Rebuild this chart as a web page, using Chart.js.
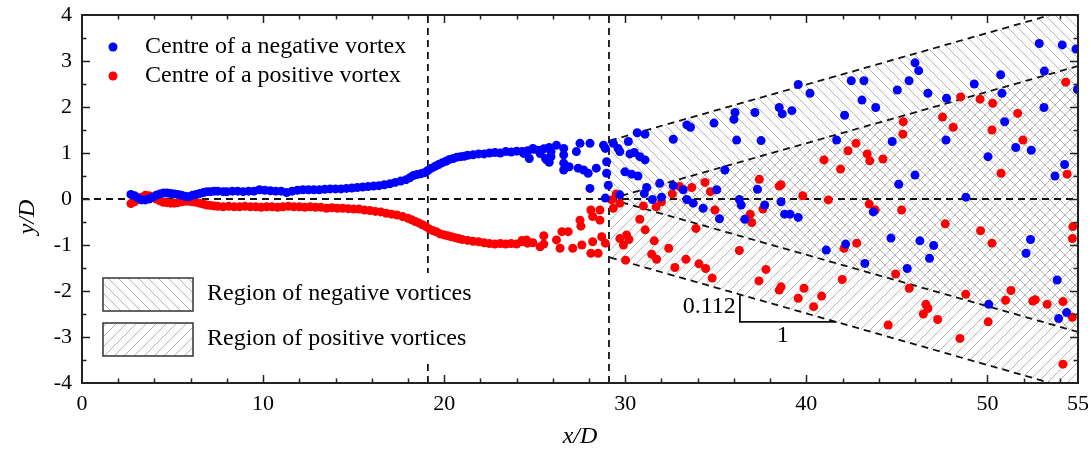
<!DOCTYPE html>
<html>
<head>
<meta charset="utf-8">
<script src="https://cdn.jsdelivr.net/npm/chart.js@4/dist/chart.umd.min.js"></script>
<style>
  html, body { margin: 0; padding: 0; background: #fff; }
</style>
</head>
<body>
<canvas id="vortexChart" width="1091" height="450"></canvas>
<script>
// tick labels
const xTicks = [0, 10, 20, 30, 40, 50, 55];
const yTicks = [-4, -3, -2, -1, 0, 1, 2, 3, 4];

// centres of negative vortices, near wake (x/D, y/D)
const negTrail = [
  [2.7,0.10],[2.9,0.07],[3.1,0.02],[3.3,-0.02],[3.5,-0.02],[3.7,0.0],[3.9,0.04],[4.1,0.08],[4.3,0.11],[4.5,0.13],
  [4.7,0.13],[4.9,0.12],[5.1,0.11],[5.3,0.10],[5.5,0.08],[5.7,0.06],[5.9,0.05],[6.1,0.08],[6.3,0.10],[6.5,0.12],
  [6.7,0.14],[6.9,0.16],[7.1,0.16],[7.3,0.17],[7.5,0.17],[7.8,0.16],[8.0,0.16],[8.3,0.17],[8.6,0.17],[8.9,0.16],
  [9.2,0.17],[9.5,0.17],[9.8,0.20],[10.1,0.19],[10.4,0.18],[10.7,0.17],[11.0,0.17],[11.3,0.14],[11.6,0.17],[11.9,0.19],
  [12.2,0.20],[12.5,0.20],[12.8,0.20],[13.1,0.20],[13.4,0.21],[13.7,0.22],[14.0,0.22],[14.3,0.22],[14.6,0.23],[14.9,0.24],
  [15.2,0.25],[15.5,0.26],[15.8,0.27],[16.1,0.28],[16.4,0.29],[16.7,0.31],[17.0,0.33],[17.3,0.36],[17.6,0.39],[17.9,0.42],
  [18.1,0.46],[18.3,0.51],[18.5,0.53],[18.7,0.55],[18.9,0.57],[19.1,0.62],[19.3,0.67],[19.5,0.71],[19.7,0.75],[19.9,0.79],
  [20.1,0.82],[20.3,0.86],[20.5,0.88],[20.7,0.91],[20.9,0.92],[21.1,0.93],[21.3,0.95],[21.6,0.96],[21.9,0.98],[22.2,0.98],
  [22.5,1.00],[22.8,1.01],[23.1,1.00],[23.4,1.03],[23.7,1.02],[24.0,1.04],[24.3,1.03],[24.6,1.05],[24.9,1.08],[25.2,1.06],
  [25.5,1.09],[25.8,1.12]
];

// centres of negative vortices, far wake
const negScatter = [
  [24.4,0.99],[24.7,0.88],[24.9,1.10],[25.3,0.99],[25.6,0.88],[25.66,0.85],[25.8,0.80],[25.9,1.03],[25.9,0.92],[26.2,1.17],
  [26.6,1.10],[26.6,0.96],[26.6,0.78],[26.6,0.63],[26.9,0.70],[27.3,1.03],[27.4,0.67],[27.5,1.21],[27.7,0.63],[27.95,0.56],
  [28.05,1.21],[28.05,0.23],[28.4,0.67],[28.8,1.17],[28.9,1.10],[28.97,0.81],[28.97,0.56],[29.06,0.30],[28.9,0.02],[29.34,1.21],
  [29.6,1.10],[29.7,1.03],[29.7,0.09],[30.17,1.25],[30.26,0.98],[30.5,1.01],[30.66,1.44],[31.09,1.41],[30.8,0.92],[31.09,0.85],
  [29.98,0.59],[30.35,0.54],[30.7,0.50],[31.18,0.25],[31.05,0.12],[31.9,0.34],[31.5,-0.01],[32.0,0.04],[32.65,1.30],[32.65,0.29],
  [33.2,0.20],[33.4,1.61],[33.6,1.56],[33.4,-0.01],[33.75,-0.09],[34.3,-0.20],[34.9,1.65],[35.05,0.20],[35.2,-0.43],[35.5,0.63],
  [36.0,1.73],[36.06,1.88],[36.15,1.28],[36.3,-0.01],[36.4,-0.13],[36.6,-0.44],[37.16,1.88],[37.3,0.21],[37.5,1.27],[37.7,-0.13],
  [38.5,1.99],[38.67,1.85],[38.6,-0.06],[38.8,-0.33],[39.1,-0.33],[39.2,1.92],[39.55,2.49],[39.55,-0.40],[40.2,2.30],[41.1,-1.11],
  [41.67,1.28],[42.11,1.82],[42.17,-0.98],[42.48,2.57],[43.07,2.15],[43.18,2.57],[43.23,-1.40],[43.7,-0.28],[43.83,1.99],[44.67,-0.85],
  [44.74,1.25],[45.02,2.37],[45.1,0.32],[45.57,-1.51],[45.67,2.57],[46.0,2.96],[46.2,2.79],[46.0,0.52],[46.27,-0.91],[46.71,2.30],
  [46.8,-1.29],[47.03,-1.01],[47.71,1.28],[47.74,2.19],[48.81,0.04],[49.27,2.50],[50.03,0.92],[50.07,-2.29],[50.73,2.70],[50.8,2.30],
  [50.95,1.68],[51.56,1.12],[52.13,-1.18],[52.38,-0.88],[52.42,1.06],[52.86,3.38],[53.12,1.99],[53.14,2.78],[53.73,0.50],[53.85,-1.76],
  [53.93,-2.60],[54.13,3.35],[54.26,0.75],[54.37,-2.47],[54.89,3.26],[54.97,2.38]
];

// centres of positive vortices, near wake
const posTrail = [
  [2.7,-0.10],[2.9,-0.06],[3.1,-0.01],[3.3,0.04],[3.5,0.08],[3.7,0.07],[3.9,0.04],[4.1,0.0],[4.3,-0.04],[4.5,-0.07],
  [4.7,-0.08],[4.9,-0.09],[5.1,-0.09],[5.3,-0.08],[5.5,-0.06],[5.7,-0.05],[5.9,-0.05],[6.1,-0.06],[6.3,-0.07],[6.5,-0.09],
  [6.7,-0.11],[6.9,-0.13],[7.1,-0.14],[7.3,-0.15],[7.5,-0.16],[7.8,-0.17],[8.1,-0.16],[8.4,-0.17],[8.7,-0.17],[9.0,-0.16],
  [9.3,-0.17],[9.6,-0.17],[9.9,-0.18],[10.2,-0.17],[10.5,-0.17],[10.8,-0.18],[11.1,-0.17],[11.4,-0.16],[11.7,-0.17],[12.0,-0.17],
  [12.3,-0.18],[12.6,-0.17],[12.9,-0.18],[13.2,-0.18],[13.5,-0.20],[13.8,-0.19],[14.1,-0.20],[14.4,-0.20],[14.7,-0.21],[15.0,-0.22],
  [15.3,-0.22],[15.6,-0.24],[15.9,-0.25],[16.2,-0.27],[16.5,-0.28],[16.8,-0.31],[17.1,-0.33],[17.4,-0.35],[17.7,-0.38],[18.0,-0.42],
  [18.2,-0.45],[18.4,-0.49],[18.6,-0.52],[18.8,-0.56],[19.0,-0.60],[19.2,-0.66],[19.4,-0.69],[19.6,-0.72],[19.8,-0.76],[20.0,-0.78],
  [20.2,-0.80],[20.4,-0.82],[20.6,-0.84],[20.8,-0.86],[21.0,-0.88],[21.3,-0.90],[21.6,-0.92],[21.9,-0.93],[22.2,-0.95],[22.5,-0.97],
  [22.8,-0.98],[23.1,-0.97],[23.4,-0.98],[23.7,-0.97],[24.0,-0.98],[24.3,-0.93],[24.6,-0.96],[24.9,-0.95]
];

// centres of positive vortices, far wake
const posScatter = [
  [24.3,-0.90],[24.55,-0.89],[25.3,-1.04],[25.5,-0.80],[25.5,-0.98],[26.2,-0.89],[26.4,-1.07],[26.5,-0.71],[26.85,-0.71],[27.1,-1.07],
  [27.5,-0.46],[27.55,-0.59],[27.6,-1.00],[28.1,-0.24],[28.2,-0.38],[28.2,-0.93],[28.1,-1.18],[28.5,-1.18],[28.6,-0.24],[28.6,-0.46],
  [28.7,-0.82],[28.9,-0.96],[29.25,-0.02],[29.5,0.11],[29.7,-0.09],[29.34,-0.20],[29.7,-0.86],[30.07,-0.78],[30.2,-0.88],[29.9,-1.00],
  [30.02,-1.33],[30.8,-0.44],[31.0,-0.15],[31.1,-0.67],[31.46,-1.20],[31.6,-0.91],[31.7,-0.17],[31.73,-1.31],[32.0,-0.06],[32.4,-1.07],
  [32.6,0.11],[32.74,-1.49],[33.0,0.27],[33.35,-1.31],[33.67,0.25],[33.9,-0.64],[34.07,-1.41],[34.4,0.36],[34.44,-1.51],[34.7,0.16],
  [34.8,-1.72],[34.95,-0.24],[36.3,-1.12],[36.9,-0.33],[36.98,-0.51],[37.38,-1.78],[37.4,0.43],[37.6,-0.22],[37.77,-1.53],[38.5,0.28],
  [38.6,0.31],[38.5,-1.98],[38.6,-1.91],[39.55,-2.16],[39.8,0.07],[39.87,-1.94],[40.4,-2.34],[40.84,-2.11],[40.97,0.85],[41.21,-0.02],
  [41.89,0.65],[41.98,-1.75],[42.08,-1.07],[42.3,1.05],[42.74,1.21],[42.78,-0.96],[43.36,0.98],[43.47,-0.11],[43.5,0.83],[43.8,-0.24],
  [44.23,0.87],[44.52,-2.74],[44.93,-1.63],[45.26,-0.24],[45.33,1.41],[45.35,1.68],[45.68,-1.94],[46.46,-2.50],[46.6,-2.29],[46.71,-2.38],
  [47.25,-2.62],[47.52,1.78],[47.67,-0.54],[48.11,1.56],[48.48,-3.03],[48.52,2.22],[48.8,-2.07],[49.59,2.17],[49.62,-0.69],[50.04,-2.67],
  [50.25,1.50],[50.25,-0.96],[50.29,2.08],[50.75,0.56],[51.0,-2.20],[51.3,-1.99],[51.67,1.86],[51.96,1.28],[52.5,-2.22],[52.64,-2.19],
  [53.3,-2.29],[54.17,-2.23],[54.17,-3.59],[54.32,2.54],[54.4,0.54],[54.69,-0.86],[54.72,-0.60],[54.69,-2.57]
];

// spreading regions (slope 0.112), outlines as polygons
const negRegion = [[29.15,1.27],[55,4.17],[55,-2.89],[29.15,0]];
const posRegion = [[29.15,0],[55,2.89],[55,-4.17],[29.15,-1.27]];
const edgeTop = [[29.15,1.27],[55,4.17]];
const edgeMidUp = [[29.15,0],[55,2.89]];
const edgeMidDown = [[29.15,0],[55,-2.89]];
const edgeBottom = [[29.15,-1.27],[55,-4.17]];

// reference lines
const zeroLine = [[0,0],[55,0]];
const lineA = [[19.1,-4],[19.1,4]];
const lineB = [[29.1,-4],[29.1,4]];

// slope marker: 0.112 over 1
const slopeMark = [[36.33,-2.09],[36.33,-2.67],[41.67,-2.67]];
const slopeText = [{ t: '0.112', x: 36.1, y: -2.35, align: 'right' }, { t: '1', x: 38.7, y: -2.98, align: 'center' }];

const serif = "'Liberation Serif', 'Times New Roman', serif";
const canvas = document.getElementById('vortexChart');
const ctx = canvas.getContext('2d');

function hatch(back) {
  const s = 10;
  const c = document.createElement('canvas');
  c.width = s; c.height = s;
  const g = c.getContext('2d');
  g.strokeStyle = '#b4b4b4';
  g.lineWidth = 1;
  g.beginPath();
  if (back) {
    g.moveTo(-1, -1); g.lineTo(s + 1, s + 1);
    g.moveTo(-1, s - 1); g.lineTo(1, s + 1);
    g.moveTo(s - 1, -1); g.lineTo(s + 1, 1);
  } else {
    g.moveTo(-1, s + 1); g.lineTo(s + 1, -1);
    g.moveTo(-1, 1); g.lineTo(1, -1);
    g.moveTo(s - 1, s + 1); g.lineTo(s + 1, s - 1);
  }
  g.stroke();
  return ctx.createPattern(c, 'repeat');
}
const negHatch = hatch(true);
const posHatch = hatch(false);

const pts = arr => arr.map(([x, y]) => ({ x, y }));
const dashed = data => ({
  type: 'line', data: pts(data), borderColor: '#111', borderWidth: 1.8, borderDash: [7, 5],
  pointRadius: 0, fill: false, tension: 0
});

const frame = {
  id: 'frame',
  afterDraw(chart) {
    const c = chart.ctx;
    const a = chart.chartArea;
    const xs = chart.scales.x, ys = chart.scales.y;
    c.save();

    // legend for the regions (white box hides the reference line)
    c.fillStyle = '#fff';
    c.fillRect(a.left + 14, a.top + 258, 382, 88);
    const boxes = [
      { y: a.top + 263, fill: negHatch, label: 'Region of negative vortices' },
      { y: a.top + 308, fill: posHatch, label: 'Region of positive vortices' }
    ];
    c.font = `24px ${serif}`;
    c.textBaseline = 'middle';
    c.textAlign = 'left';
    boxes.forEach(b => {
      c.fillStyle = b.fill;
      c.fillRect(a.left + 21, b.y, 90, 33);
      c.strokeStyle = '#333';
      c.lineWidth = 1.5;
      c.strokeRect(a.left + 21, b.y, 90, 33);
      c.fillStyle = '#000';
      c.fillText(b.label, a.left + 125, b.y + 16);
    });

    // legend for the markers
    [['rgb(0,0,255)', 'Centre of a negative vortex', a.top + 32], ['rgb(255,0,0)', 'Centre of a positive vortex', a.top + 61]]
      .forEach(([col, label, y]) => {
        c.fillStyle = col;
        c.beginPath();
        c.arc(a.left + 31, y, 4.5, 0, Math.PI * 2);
        c.fill();
        c.fillStyle = '#000';
        c.fillText(label, a.left + 63, y);
      });

    // slope marker labels
    slopeText.forEach(s => {
      c.textAlign = s.align;
      c.fillText(s.t, xs.getPixelForValue(s.x), ys.getPixelForValue(s.y));
    });

    // frame and inward ticks on all four sides
    c.strokeStyle = '#222';
    c.lineWidth = 2;
    c.strokeRect(a.left, a.top, a.right - a.left, a.bottom - a.top);
    c.lineWidth = 1.5;
    c.beginPath();
    for (let v = 2; v < 55; v += 2) {
      const px = Math.round(xs.getPixelForValue(v)) + 0.5;
      const len = v % 10 === 0 ? 8 : 4.5;
      c.moveTo(px, a.bottom); c.lineTo(px, a.bottom - len);
      c.moveTo(px, a.top); c.lineTo(px, a.top + len);
    }
    for (let v = -3.5; v < 4; v += 0.5) {
      const py = Math.round(ys.getPixelForValue(v)) + 0.5;
      const len = Number.isInteger(v) ? 8 : 4.5;
      c.moveTo(a.left, py); c.lineTo(a.left + len, py);
      c.moveTo(a.right, py); c.lineTo(a.right - len, py);
    }
    c.stroke();

    // axis titles
    c.fillStyle = '#000';
    c.font = `italic 24px ${serif}`;
    c.textAlign = 'center';
    c.fillText('x/D', (a.left + a.right) / 2, 437);
    c.translate(28, 217);
    c.rotate(-Math.PI / 2);
    c.fillText('y/D', 0, 0);
    c.restore();
  }
};

new Chart(ctx, {
  type: 'scatter',
  data: {
    datasets: [
      { data: pts(negTrail.concat(negScatter)), backgroundColor: 'rgb(0,0,255)', borderWidth: 0, pointRadius: 4.5 },
      { data: pts(posTrail.concat(posScatter)), backgroundColor: 'rgb(255,0,0)', borderWidth: 0, pointRadius: 4.5 },
      { type: 'line', data: pts(slopeMark), borderColor: '#111', borderWidth: 1.8, pointRadius: 0, fill: false, tension: 0 },
      dashed(edgeTop), dashed(edgeMidUp), dashed(edgeMidDown), dashed(edgeBottom),
      dashed(zeroLine), dashed(lineA), dashed(lineB),
      { type: 'line', data: pts(negRegion), borderWidth: 0, borderColor: 'rgba(0,0,0,0)', backgroundColor: negHatch, pointRadius: 0, fill: 'shape', tension: 0 },
      { type: 'line', data: pts(posRegion), borderWidth: 0, borderColor: 'rgba(0,0,0,0)', backgroundColor: posHatch, pointRadius: 0, fill: 'shape', tension: 0 }
    ]
  },
  options: {
    responsive: false,
    animation: false,
    devicePixelRatio: 1,
    layout: { padding: { top: 15, right: 13, left: 0, bottom: 0 } },
    plugins: { legend: { display: false }, tooltip: { enabled: false } },
    scales: {
      x: {
        type: 'linear', min: 0, max: 55,
        afterBuildTicks: s => { s.ticks = xTicks.map(v => ({ value: v })); },
        afterFit: s => { s.height = 67; s.paddingLeft = 0; s.paddingRight = 0; },
        grid: { display: false, drawTicks: false },
        border: { display: false },
        ticks: { color: '#000', font: { family: serif, size: 22 }, padding: 8, maxRotation: 0 }
      },
      y: {
        type: 'linear', min: -4, max: 4,
        afterBuildTicks: s => { s.ticks = yTicks.map(v => ({ value: v })); },
        afterFit: s => { s.width = 82; s.paddingTop = 0; s.paddingBottom = 0; },
        grid: { display: false, drawTicks: false },
        border: { display: false },
        ticks: { color: '#000', font: { family: serif, size: 22 }, padding: 10 }
      }
    }
  },
  plugins: [frame]
});
</script>
</body>
</html>
